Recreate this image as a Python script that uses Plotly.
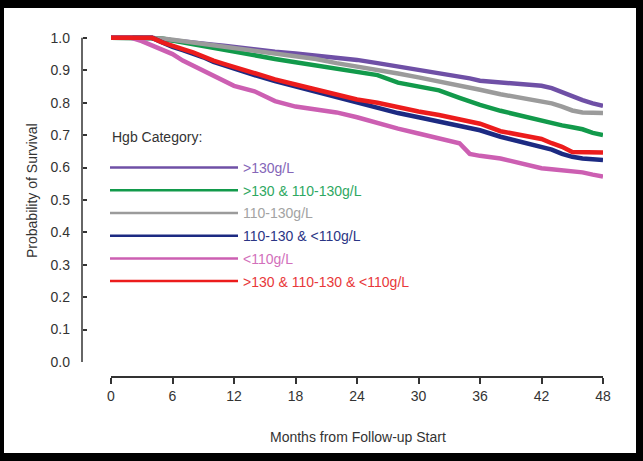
import plotly.graph_objects as go

# ---- data ----
months = [0, 2, 3, 4, 5, 6, 7, 8, 9, 10, 11, 12, 14, 16, 18, 20, 22, 24, 26, 28, 30, 32, 34, 35, 36, 38,
          40, 42, 43, 44, 45, 46, 47, 48]

surv_gt130 = [1.0, 1.0, 1.0, 1.0, 0.996, 0.992, 0.99, 0.986, 0.982, 0.979, 0.976, 0.972, 0.963, 0.957,
              0.952, 0.946, 0.938, 0.932, 0.922, 0.912, 0.903, 0.893, 0.882, 0.875, 0.868, 0.862,
              0.857, 0.852, 0.845, 0.832, 0.818, 0.808, 0.798, 0.790]
surv_gt130_110 = [1.0, 1.0, 1.0, 1.0, 0.998, 0.992, 0.986, 0.981, 0.976, 0.971, 0.965, 0.958, 0.945,
                  0.935, 0.925, 0.915, 0.907, 0.897, 0.885, 0.862, 0.85, 0.838, 0.815, 0.804, 0.793,
                  0.775, 0.76, 0.742, 0.737, 0.73, 0.724, 0.718, 0.707, 0.700]
surv_110_130 = [1.0, 1.0, 1.0, 1.0, 0.998, 0.994, 0.99, 0.986, 0.982, 0.978, 0.974, 0.97, 0.962, 0.953,
                0.945, 0.935, 0.922, 0.912, 0.902, 0.89, 0.878, 0.866, 0.853, 0.847, 0.84, 0.826,
                0.815, 0.805, 0.798, 0.788, 0.776, 0.770, 0.769, 0.768]
surv_110_lt110 = [1.0, 1.0, 1.0, 1.0, 0.986, 0.972, 0.962, 0.952, 0.94, 0.926, 0.915, 0.905, 0.885,
                  0.867, 0.85, 0.834, 0.818, 0.80, 0.785, 0.768, 0.755, 0.742, 0.73, 0.723, 0.715,
                  0.695, 0.68, 0.665, 0.655, 0.642, 0.633, 0.628, 0.625, 0.623]
surv_lt110 = [1.0, 1.0, 0.99, 0.977, 0.965, 0.95, 0.93, 0.915, 0.9, 0.885, 0.868, 0.852, 0.835, 0.805,
              0.788, 0.778, 0.77, 0.755, 0.737, 0.72, 0.705, 0.69, 0.675, 0.642, 0.636, 0.628,
              0.612, 0.598, 0.595, 0.592, 0.589, 0.585, 0.578, 0.572]
surv_all = [1.0, 1.0, 1.0, 1.0, 0.986, 0.974, 0.965, 0.955, 0.942, 0.93, 0.92, 0.91, 0.89, 0.872,
            0.856, 0.84, 0.826, 0.81, 0.80, 0.785, 0.773, 0.762, 0.75, 0.743, 0.735, 0.712, 0.70,
            0.688, 0.675, 0.664, 0.648, 0.647, 0.646, 0.646]

series_names = [">130g/L", ">130 & 110-130g/L", "110-130g/L", "110-130 & <110g/L", "<110g/L",
                ">130 & 110-130 & <110g/L"]
series_values = [surv_gt130, surv_gt130_110, surv_110_130, surv_110_lt110, surv_lt110, surv_all]
line_colors = ["#6f50a6", "#129a4b", "#9b9b9b", "#1c2a82", "#cc5fb2", "#ec1c1c"]
text_colors = ["#8566b8", "#2ea862", "#a3a3a3", "#2b3585", "#d270bb", "#e8383a"]

x_ticks = [0, 6, 12, 18, 24, 30, 36, 42, 48]
y_ticks = [0.0, 0.1, 0.2, 0.3, 0.4, 0.5, 0.6, 0.7, 0.8, 0.9, 1.0]

# ---- geometry (pixels) ----
W, H = 643, 461
L, R = 82, 603          # y-axis line x, x=48 position
T, B = 33, 377          # top of plot area, x-axis line y
X0PX = 111              # x=0 position
Y0PX = 362              # y=0 position
PW, PH = R - L, B - T


def px(xp):
    return (xp - L) / PW


def py(yp):
    return (B - yp) / PH


FONT = "Liberation Sans, Arial, sans-serif"
TXT = "#333333"

fig = go.Figure()
for i, (vals, lc) in enumerate(zip(series_values, line_colors)):
    fig.add_trace(go.Scatter(
        x=months, y=vals, mode="lines",
        line=dict(color=lc, width=4.5),
        showlegend=False, legendgroup=f"g{i}", hoverinfo="skip",
    ))
# legend entries (thinner keys, no data points)
for i, (name, lc, tc) in enumerate(zip(series_names, line_colors, text_colors)):
    fig.add_trace(go.Scatter(
        x=[None], y=[None], mode="lines",
        line=dict(color=lc, width=2.5),
        name=f"<span style='color:{tc}'>{name}</span>",
        legendgroup=f"g{i}", showlegend=True,
    ))

fig.update_layout(
    width=W, height=H,
    margin=dict(l=L, r=W - R, t=T, b=H - B, pad=0),
    paper_bgcolor="black",
    plot_bgcolor="rgba(0,0,0,0)",
    font=dict(family=FONT, size=14, color=TXT),
    xaxis=dict(
        domain=[px(X0PX), 1], range=[0, 48], anchor="free", position=0,
        showline=True, linecolor=TXT, linewidth=1.5,
        ticks="outside", ticklen=6, tickwidth=1.5, tickcolor=TXT,
        tickvals=x_ticks, showgrid=False, zeroline=False,
        tickfont=dict(family=FONT, size=14, color=TXT),
    ),
    yaxis=dict(
        domain=[py(Y0PX), 1], range=[0, 1.015], anchor="free", position=0,
        showline=False,
        ticks="inside", ticklen=4, tickwidth=1.5, tickcolor=TXT,
        tickvals=y_ticks, tickformat=".1f", showgrid=False, zeroline=False,
        tickfont=dict(family=FONT, size=14, color=TXT),
        ticklabelstandoff=12,
    ),
    legend=dict(
        x=px(105), y=py(152), xanchor="left", yanchor="top",
        bgcolor="rgba(0,0,0,0)",
        font=dict(family=FONT, size=14),
        itemwidth=128,
        tracegroupgap=1.5,
    ),
    showlegend=True,
)

# white page inside black frame
fig.add_shape(type="rect", xref="paper", yref="paper",
              x0=px(4), x1=px(636), y0=py(453), y1=py(8),
              fillcolor="white", line=dict(width=0), layer="below")
# y-axis line (bracket style spanning 0..1)
fig.add_shape(type="line", xref="paper", yref="y", x0=0, x1=0, y0=0, y1=1,
              line=dict(color=TXT, width=1.5))

fig.add_annotation(text="Hgb Category:", xref="paper", yref="paper",
                   x=px(110), y=py(137), xanchor="left", yanchor="middle", showarrow=False,
                   font=dict(family=FONT, size=14, color=TXT))
fig.add_annotation(text="Months from Follow-up Start", xref="paper", yref="paper",
                   x=px(358), y=py(437), xanchor="center", yanchor="middle", showarrow=False,
                   font=dict(family=FONT, size=14, color=TXT))
fig.add_annotation(text="Probability of Survival", xref="paper", yref="paper",
                   x=px(32), y=py(191), xanchor="center", yanchor="middle", showarrow=False,
                   textangle=-90,
                   font=dict(family=FONT, size=14, color=TXT))

fig.write_html(
    "out.html",
    config={"displayModeBar": False},
    post_script="document.body.style.margin='0px';document.body.style.overflow='hidden';",
)
